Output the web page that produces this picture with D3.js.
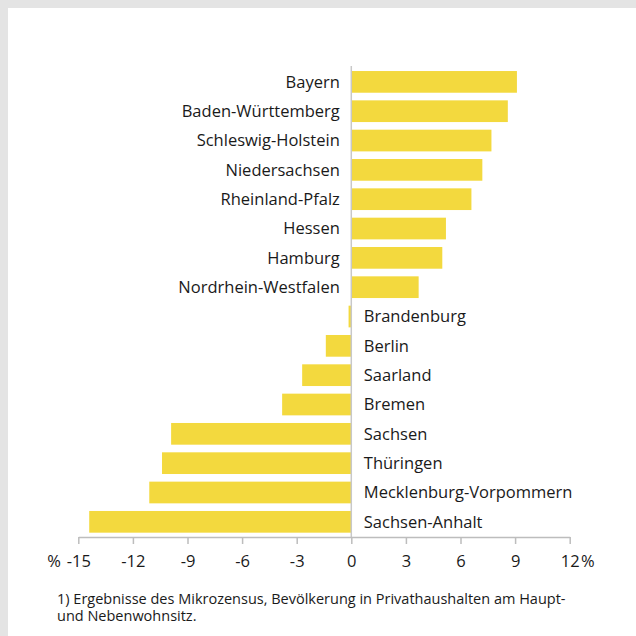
<!DOCTYPE html>
<meta charset="utf-8">
<script src="https://d3js.org/d3.v7.min.js"></script>
<style>
  body { margin: 0; }
  svg text { font-family: "Open Sans", "Noto Sans", sans-serif; fill: #1a1a1a; }
</style>
<div id="chart"></div>
<script>

// Bundesländer, top to bottom
var states = ["Bayern", "Baden-Württemberg", "Schleswig-Holstein", "Niedersachsen",
  "Rheinland-Pfalz", "Hessen", "Hamburg", "Nordrhein-Westfalen", "Brandenburg",
  "Berlin", "Saarland", "Bremen", "Sachsen", "Thüringen",
  "Mecklenburg-Vorpommern", "Sachsen-Anhalt"];
// change in %
var values = [9.1, 8.6, 7.7, 7.2, 6.6, 5.2, 5.0, 3.7, -0.15, -1.4, -2.7, -3.8,
  -9.9, -10.4, -11.1, -14.4];
var ticks = [-15, -12, -9, -6, -3, 0, 3, 6, 9, 12];
var footnote = ["1) Ergebnisse des Mikrozensus, Bevölkerung in Privathaushalten am Haupt-",
  "und Nebenwohnsitz."];

var W = 636, H = 636;
var data = states.map(function(s, i) { return {name: s, value: values[i]}; });

var svg = d3.select("#chart").append("svg")
  .attr("width", W).attr("height", H);

// grey frame top + left
svg.append("rect").attr("width", W).attr("height", H).attr("fill", "#e4e4e4");
svg.append("rect").attr("x", 8).attr("y", 8).attr("width", W - 8).attr("height", H - 8)
  .attr("fill", "#fff");

var x = d3.scaleLinear().domain([-15, 12]).range([78.3, 569.7]);
var y = d3.scaleBand().domain(states).range([63.4, 540.3]).padding(0.26);
var axisY = 537;

// bars
svg.append("g").selectAll("rect")
  .data(data)
  .enter().append("rect")
    .attr("x", function(d) { return x(Math.min(0, d.value)); })
    .attr("y", function(d) { return y(d.name); })
    .attr("width", function(d) { return Math.abs(x(d.value) - x(0)); })
    .attr("height", y.bandwidth())
    .attr("fill", "#f3d93e");

// zero line
svg.append("line")
  .attr("x1", x(0)).attr("x2", x(0))
  .attr("y1", 66).attr("y2", axisY)
  .attr("stroke", "#c8c8c8").attr("stroke-width", 1.5);

// labels
svg.append("g").selectAll("text")
  .data(data)
  .enter().append("text")
    .attr("x", function(d) { return d.value >= 0 ? x(0) - 11.5 : x(0) + 12.5; })
    .attr("y", function(d) { return y(d.name) + y.bandwidth() / 2; })
    .attr("dy", "0.35em")
    .attr("text-anchor", function(d) { return d.value >= 0 ? "end" : "start"; })
    .style("font-size", "16.5px")
    .text(function(d) { return d.name; });

// x axis
var gx = svg.append("g")
  .attr("transform", "translate(0," + axisY + ")")
  .call(d3.axisBottom(x).tickValues(ticks).tickSize(7).tickSizeOuter(0)
    .tickFormat(function(d) { return String(d); }));
gx.select(".domain").attr("stroke", "#bdbdbd").attr("stroke-width", 1.5);
gx.selectAll(".tick line").attr("stroke", "#bdbdbd").attr("stroke-width", 1.5);
gx.selectAll(".tick text")
  .attr("y", 30).attr("dy", null)
  .style("font-size", "16.5px").style("font-family", null).attr("fill", null);

svg.append("text").attr("x", 61).attr("y", axisY + 30)
  .attr("text-anchor", "end").style("font-size", "16.5px").text("%");
svg.append("text").attr("x", 581).attr("y", axisY + 30)
  .style("font-size", "16.5px").text("%");

// footnote
svg.append("g").selectAll("text")
  .data(footnote)
  .enter().append("text")
    .attr("x", 57)
    .attr("y", function(d, i) { return 604 + i * 17; })
    .style("font-size", "14.5px")
    .text(function(d) { return d; });

</script>
